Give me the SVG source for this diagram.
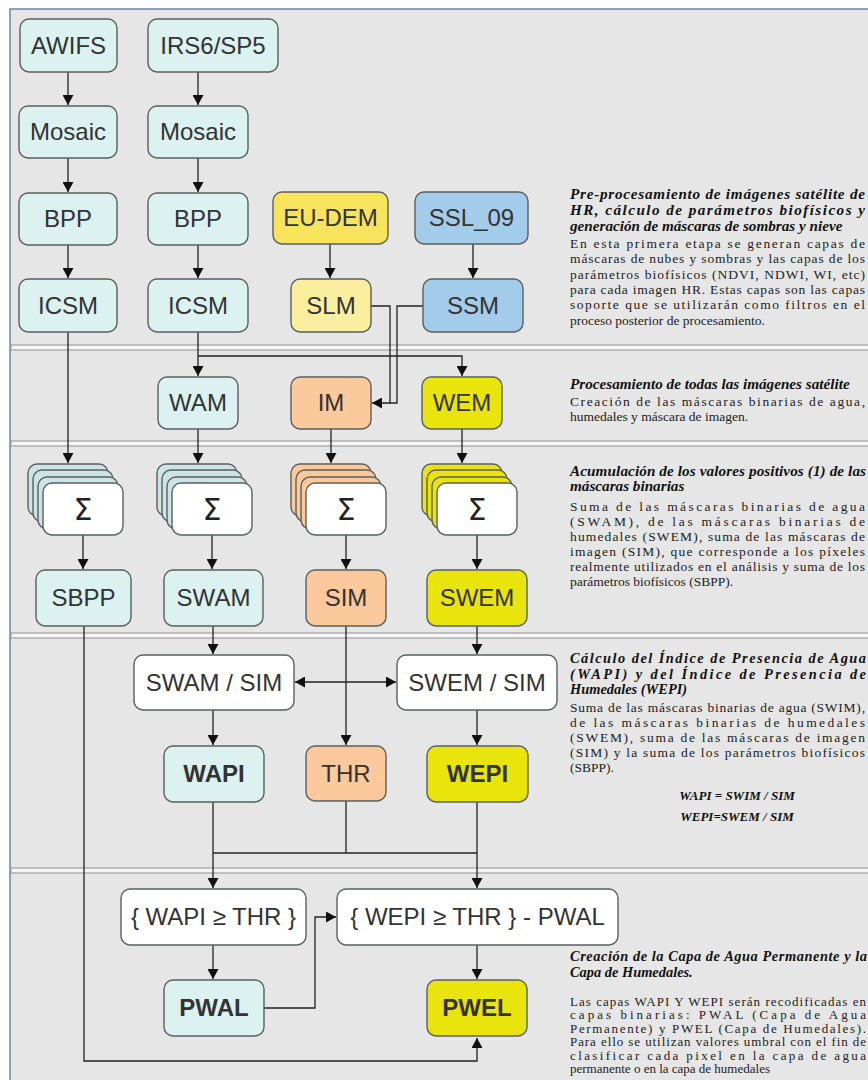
<svg xmlns="http://www.w3.org/2000/svg" width="868" height="1080" viewBox="0 0 868 1080">
<defs>
<marker id="ah" markerUnits="userSpaceOnUse" markerWidth="11" markerHeight="11" refX="10" refY="5.5" orient="auto">
<path d="M0,0 L10,5.5 L0,11 z" fill="#111"/>
</marker>
<style>
.n{stroke:#5a5f5f;stroke-width:1.4}
.cy{fill:#dbf2f1}
.cyb{fill:#cde4e4}
.ye{fill:#f8e45c}
.yl{fill:#fbee9e}
.bl{fill:#a3cbea}
.or{fill:#fcc99c}
.gy{fill:#e9e40c}
.wh{fill:#ffffff}
.t{font-family:"Liberation Sans",Arial,sans-serif;font-size:24px;fill:#333;text-anchor:middle}
.tb{font-weight:bold}
.sg{font-family:"DejaVu Sans","Liberation Sans",sans-serif;font-size:30px;fill:#222;text-anchor:middle}
.c{fill:none;stroke:#222;stroke-width:1.3}
.a{marker-end:url(#ah)}
.div{fill:#f6f6f6;stroke:#a0a0a0;stroke-width:1.2}
.h{font-family:"Liberation Serif","Times New Roman",serif;font-size:15.2px;font-weight:bold;font-style:italic;fill:#111}
.hs{font-size:14.4px}
.f{font-family:"Liberation Serif","Times New Roman",serif;font-size:13px;font-weight:bold;font-style:italic;fill:#111;text-anchor:middle}
.b{font-family:"Liberation Serif","Times New Roman",serif;font-size:13.5px;fill:#222}
.b5{font-family:"Liberation Serif","Times New Roman",serif;font-size:13px;fill:#222}
</style>
</defs>
<rect x="10" y="9" width="870" height="1080" fill="#e6e6e6" stroke="#6f86a6" stroke-width="1.5"/>
<g id="dividers">
<rect class="div" x="11" y="345" width="860" height="5"/>
<rect class="div" x="11" y="441" width="860" height="5"/>
<rect class="div" x="11" y="633" width="860" height="5"/>
<rect class="div" x="11" y="868" width="860" height="5"/>
</g>
<g id="connectors">
<path class="c a" d="M68,72 V105"/>
<path class="c a" d="M198,72 V105"/>
<path class="c a" d="M68,158 V192"/>
<path class="c a" d="M198,158 V192"/>
<path class="c a" d="M68,245 V278"/>
<path class="c a" d="M198,245 V278"/>
<path class="c a" d="M330,244 V278"/>
<path class="c a" d="M473,244 V278"/>
<path class="c a" d="M198,332 V376"/>
<path class="c a" d="M198,356 H462 V376"/>
<path class="c a" d="M371,306 H390 V403 H372"/>
<path class="c" d="M423,306 H397 V403 H390"/>
<path class="c a" d="M68,332 V463"/>
<path class="c a" d="M198,429 V463"/>
<path class="c a" d="M331,429 V463"/>
<path class="c a" d="M462,429 V463"/>
<path class="c a" d="M83,535 V569"/>
<path class="c a" d="M212,535 V569"/>
<path class="c a" d="M346,535 V569"/>
<path class="c a" d="M477,535 V569"/>
<path class="c a" d="M213,626 V654"/>
<path class="c a" d="M477,626 V654"/>
<path class="c a" d="M346,626 V745"/>
<path class="c a" d="M346,682 H295"/>
<path class="c a" d="M346,682 H396"/>
<path class="c a" d="M213,710 V745"/>
<path class="c a" d="M477,710 V745"/>
<path class="c a" d="M213,802 V888"/>
<path class="c a" d="M477,802 V888"/>
<path class="c" d="M346,801 V853"/>
<path class="c" d="M213,853 H477"/>
<path class="c a" d="M264,1008 H315 V917 H336"/>
<path class="c a" d="M213,945 V979"/>
<path class="c a" d="M477,945 V979"/>
<path class="c a" d="M84,626 V1061 H477 V1038"/>
</g>
<g id="n-awifs"><rect class="n cy" x="20" y="19" width="97" height="53" rx="9"/><text class="t" x="68.5" y="54">AWIFS</text></g>
<g id="n-irs"><rect class="n cy" x="148" y="19" width="130" height="53" rx="9"/><text class="t" x="213" y="54">IRS6/SP5</text></g>
<g id="n-mosaic1"><rect class="n cy" x="19" y="106" width="98" height="52" rx="9"/><text class="t" x="68" y="140">Mosaic</text></g>
<g id="n-mosaic2"><rect class="n cy" x="148" y="106" width="100" height="52" rx="9"/><text class="t" x="198" y="140">Mosaic</text></g>
<g id="n-bpp1"><rect class="n cy" x="19" y="193" width="98" height="52" rx="9"/><text class="t" x="68" y="227">BPP</text></g>
<g id="n-bpp2"><rect class="n cy" x="148" y="193" width="100" height="52" rx="9"/><text class="t" x="198" y="227">BPP</text></g>
<g id="n-eudem"><rect class="n ye" x="273" y="192" width="115" height="52" rx="9"/><text class="t" x="330.5" y="226">EU-DEM</text></g>
<g id="n-ssl09"><rect class="n bl" x="415" y="192" width="113" height="52" rx="9"/><text class="t" x="471.5" y="226">SSL_09</text></g>
<g id="n-icsm1"><rect class="n cy" x="19" y="279" width="98" height="53" rx="9"/><text class="t" x="68" y="314">ICSM</text></g>
<g id="n-icsm2"><rect class="n cy" x="148" y="279" width="100" height="53" rx="9"/><text class="t" x="198" y="314">ICSM</text></g>
<g id="n-slm"><rect class="n yl" x="291" y="279" width="80" height="53" rx="9"/><text class="t" x="331" y="314">SLM</text></g>
<g id="n-ssm"><rect class="n bl" x="423" y="279" width="100" height="53" rx="9"/><text class="t" x="473" y="314">SSM</text></g>
<g id="n-wam"><rect class="n cy" x="158" y="377" width="80" height="52" rx="9"/><text class="t" x="198" y="411">WAM</text></g>
<g id="n-im"><rect class="n or" x="291" y="377" width="80" height="52" rx="9"/><text class="t" x="331" y="411">IM</text></g>
<g id="n-wem"><rect class="n gy" x="422" y="377" width="80" height="52" rx="9"/><text class="t" x="462" y="411">WEM</text></g>
<g id="n-sum1">
<rect class="n cyb" x="28" y="464" width="80" height="52" rx="9"/><rect class="n cyb" x="33" y="470" width="80" height="52" rx="9"/><rect class="n cyb" x="38" y="477" width="80" height="52" rx="9"/>
<rect class="n wh" x="43" y="483" width="80" height="52" rx="9"/><text class="sg" x="83" y="520">Σ</text></g>
<g id="n-sum2">
<rect class="n cyb" x="157" y="464" width="80" height="52" rx="9"/><rect class="n cyb" x="162" y="470" width="80" height="52" rx="9"/><rect class="n cyb" x="167" y="477" width="80" height="52" rx="9"/>
<rect class="n wh" x="172" y="483" width="80" height="52" rx="9"/><text class="sg" x="212" y="520">Σ</text></g>
<g id="n-sum3">
<rect class="n or" x="291" y="464" width="80" height="52" rx="9"/><rect class="n or" x="296" y="470" width="80" height="52" rx="9"/><rect class="n or" x="301" y="477" width="80" height="52" rx="9"/>
<rect class="n wh" x="306" y="483" width="80" height="52" rx="9"/><text class="sg" x="346" y="520">Σ</text></g>
<g id="n-sum4">
<rect class="n gy" x="422" y="464" width="80" height="52" rx="9"/><rect class="n gy" x="427" y="470" width="80" height="52" rx="9"/><rect class="n gy" x="432" y="477" width="80" height="52" rx="9"/>
<rect class="n wh" x="437" y="483" width="80" height="52" rx="9"/><text class="sg" x="477" y="520">Σ</text></g>
<g id="n-sbpp"><rect class="n cy" x="36" y="570" width="95" height="56" rx="9"/><text class="t" x="83.5" y="606">SBPP</text></g>
<g id="n-swam"><rect class="n cy" x="164" y="570" width="99" height="56" rx="9"/><text class="t" x="213.5" y="606">SWAM</text></g>
<g id="n-sim"><rect class="n or" x="306" y="570" width="80" height="56" rx="9"/><text class="t" x="346" y="606">SIM</text></g>
<g id="n-swem"><rect class="n gy" x="427" y="570" width="100" height="56" rx="9"/><text class="t" x="477" y="606">SWEM</text></g>
<g id="n-swamsim"><rect class="n wh" x="134" y="655" width="160" height="55" rx="9"/><text class="t" x="214" y="691">SWAM / SIM</text></g>
<g id="n-swemsim"><rect class="n wh" x="397" y="655" width="160" height="55" rx="9"/><text class="t" x="477" y="691">SWEM / SIM</text></g>
<g id="n-wapi"><rect class="n cy" x="164" y="746" width="100" height="56" rx="9"/><text class="t tb" x="214" y="782">WAPI</text></g>
<g id="n-thr"><rect class="n or" x="306" y="746" width="80" height="55" rx="9"/><text class="t" x="346" y="782">THR</text></g>
<g id="n-wepi"><rect class="n gy" x="427" y="746" width="101" height="56" rx="9"/><text class="t tb" x="477.5" y="782">WEPI</text></g>
<g id="n-wapithr"><rect class="n wh" x="121" y="889" width="185" height="56" rx="9"/><text class="t" x="213.5" y="925">{ WAPI ≥ THR }</text></g>
<g id="n-wepithr"><rect class="n wh" x="337" y="889" width="281" height="56" rx="9"/><text class="t" x="477.5" y="925">{ WEPI ≥ THR } - PWAL</text></g>
<g id="n-pwal"><rect class="n cy" x="164" y="980" width="100" height="56" rx="9"/><text class="t tb" x="214" y="1016">PWAL</text></g>
<g id="n-pwel"><rect class="n gy" x="427" y="980" width="100" height="56" rx="9"/><text class="t tb" x="477" y="1016">PWEL</text></g>
<g id="notes">
<text class="h" x="570" y="199" textLength="295" lengthAdjust="spacing">Pre-procesamiento de imágenes satélite de</text>
<text class="h" x="570" y="215" textLength="295" lengthAdjust="spacing">HR, cálculo de parámetros biofísicos y</text>
<text class="h" x="570" y="231">generación de máscaras de sombras y nieve</text>
<text class="b" x="570" y="248" textLength="295" lengthAdjust="spacing">En esta primera etapa se generan capas de</text>
<text class="b" x="570" y="263" textLength="295" lengthAdjust="spacing">máscaras de nubes y sombras  y las capas de los</text>
<text class="b" x="570" y="279" textLength="295" lengthAdjust="spacing">parámetros biofísicos (NDVI, NDWI, WI, etc)</text>
<text class="b" x="570" y="294" textLength="295" lengthAdjust="spacing">para cada imagen HR. Estas capas son las capas</text>
<text class="b" x="570" y="309" textLength="295" lengthAdjust="spacing">soporte que se utilizarán como filtros en el</text>
<text class="b" x="570" y="325">proceso posterior de procesamiento.</text>
<text class="h" x="570" y="389">Procesamiento de todas las imágenes satélite</text>
<text class="b" x="570" y="406" textLength="295" lengthAdjust="spacing">Creación de las máscaras binarias de agua,</text>
<text class="b" x="570" y="421">humedales y máscara de imagen.</text>
<text class="h" x="570" y="476" textLength="296" lengthAdjust="spacing">Acumulación de los valores positivos (1) de las</text>
<text class="h" x="570" y="491">máscaras binarias</text>
<text class="b" x="570" y="511" textLength="295" lengthAdjust="spacing">Suma de las máscaras binarias de agua</text>
<text class="b" x="570" y="526" textLength="295" lengthAdjust="spacing">(SWAM), de las máscaras binarias de</text>
<text class="b" x="570" y="541" textLength="295" lengthAdjust="spacing">humedales (SWEM), suma de las máscaras de</text>
<text class="b" x="570" y="556" textLength="295" lengthAdjust="spacing">imagen (SIM), que corresponde a los píxeles</text>
<text class="b" x="570" y="571" textLength="295" lengthAdjust="spacing">realmente utilizados en el análisis y suma de los</text>
<text class="b" x="570" y="586">parámetros biofísicos (SBPP).</text>
<text class="h hs" x="570" y="663" textLength="296" lengthAdjust="spacing">Cálculo del Índice de Presencia de Agua</text>
<text class="h hs" x="570" y="678.5" textLength="296" lengthAdjust="spacing">(WAPI) y del Índice de Presencia de</text>
<text class="h hs" x="570" y="694">Humedales (WEPI)</text>
<text class="b" x="570" y="712" textLength="295" lengthAdjust="spacing">Suma de las máscaras binarias de agua (SWIM),</text>
<text class="b" x="570" y="727" textLength="295" lengthAdjust="spacing">de las máscaras binarias de humedales</text>
<text class="b" x="570" y="742" textLength="295" lengthAdjust="spacing">(SWEM), suma de las máscaras de imagen</text>
<text class="b" x="570" y="757" textLength="295" lengthAdjust="spacing">(SIM) y la suma de los parámetros biofísicos</text>
<text class="b" x="570" y="772">(SBPP).</text>
<text class="f" x="737" y="800">WAPI = SWIM / SIM</text>
<text class="f" x="737" y="821">WEPI=SWEM / SIM</text>
<text class="h hs" x="570" y="961" textLength="297" lengthAdjust="spacing">Creación de la Capa de Agua Permanente y la</text>
<text class="h hs" x="570" y="976.5">Capa de Humedales.</text>
<text class="b5" x="570" y="1006" textLength="296" lengthAdjust="spacing">Las capas WAPI Y WEPI serán recodificadas en</text>
<text class="b5" x="570" y="1019.4" textLength="296" lengthAdjust="spacing">capas binarias: PWAL (Capa de  Agua</text>
<text class="b5" x="570" y="1032.8" textLength="296" lengthAdjust="spacing">Permanente) y PWEL (Capa de Humedales).</text>
<text class="b5" x="570" y="1046.2" textLength="296" lengthAdjust="spacing">Para ello se utilizan  valores umbral con el fin de</text>
<text class="b5" x="570" y="1059.6" textLength="296" lengthAdjust="spacing">clasificar cada pixel en la capa de agua</text>
<text class="b5" x="570" y="1073">permanente o en la capa de humedales</text>
</g>
</svg>
